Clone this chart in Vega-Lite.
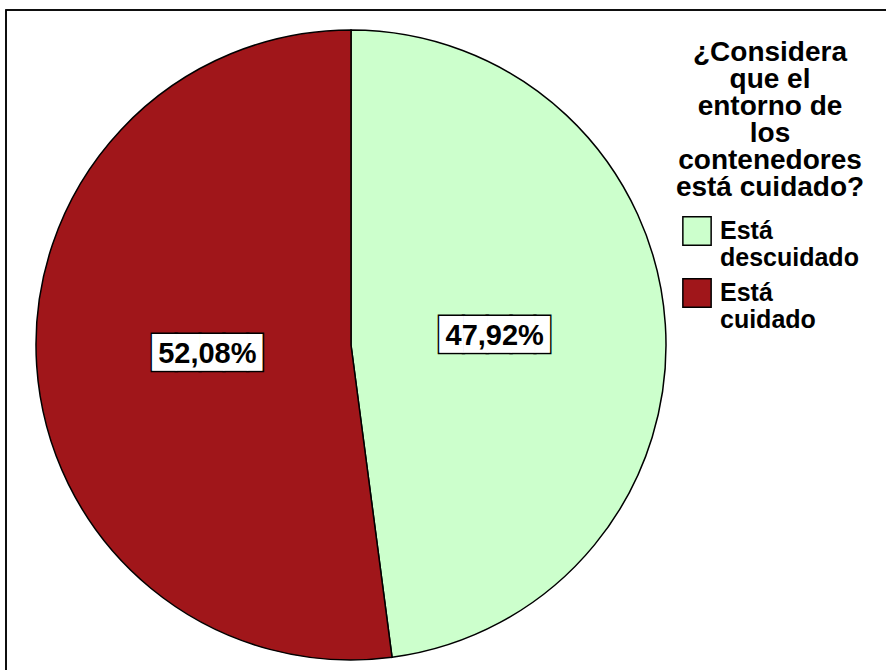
{
  "$schema": "https://vega.github.io/schema/vega-lite/v6.json",
  "width": 900,
  "height": 680,
  "autosize": "none",
  "padding": {"left": 6, "top": 10, "right": 0, "bottom": 0},
  "background": "white",
  "config": {
    "view": {"stroke": "black", "strokeWidth": 1.5},
    "font": "Liberation Sans"
  },
  "data": {
    "values": [
      {"respuesta": "Está descuidado", "porcentaje": 47.92, "etiqueta": "47,92%"},
      {"respuesta": "Está cuidado", "porcentaje": 52.08, "etiqueta": "52,08%"}
    ]
  },
  "layer": [
    {
      "mark": {"type": "rect", "fill": null, "stroke": "black", "strokeWidth": 1.5},
      "encoding": {}
    },
    {
      "mark": {"type": "arc", "outerRadius": 315, "stroke": "black", "strokeWidth": 1.5, "x": 345, "y": 335},
      "encoding": {
        "theta": {"field": "porcentaje", "type": "quantitative", "stack": true},
        "order": {"field": "porcentaje", "type": "quantitative", "sort": "ascending"},
        "color": {
          "field": "respuesta",
          "type": "nominal",
          "scale": {"domain": ["Está descuidado", "Está cuidado"], "range": ["#CCFFCC", "#A0161A"]},
          "legend": {
            "title": ["¿Considera", "que el", "entorno de", "los", "contenedores", "está cuidado?"],
            "orient": "none",
            "legendX": 670,
            "legendY": 29,
            "titleFontSize": 28,
            "titleFont": "Liberation Sans",
            "titleFontWeight": "bold",
            "titleColor": "black",
            "titleAlign": "center",
            "titleAnchor": "middle",
            "titleLineHeight": 27,
            "titleLimit": 400,
            "titlePadding": 14,
            "labelFontSize": 25,
            "labelFontWeight": "bold",
            "labelColor": "black",
            "labelFont": "Liberation Sans",
            "labelExpr": "split(datum.label, ' ')",
            "labelLimit": 300,
            "labelOffset": 8,
            "symbolType": "square",
            "symbolSize": 800,
            "symbolStrokeColor": "black",
            "symbolStrokeWidth": 1.5,
            "symbolOpacity": 1,
            "rowPadding": 4
          }
        }
      }
    },
    {
      "mark": {"type": "text", "text": "████▋", "font": "DejaVu Sans", "fontSize": 31, "radius": 144, "x": 345, "y": 335, "dx": 4.5, "fill": "black", "stroke": "black", "strokeWidth": 3, "align": "center", "baseline": "middle"},
      "encoding": {
        "theta": {"field": "porcentaje", "type": "quantitative", "stack": true},
        "order": {"field": "porcentaje", "type": "quantitative", "sort": "ascending"}
      }
    },
    {
      "mark": {"type": "text", "text": "████▋", "font": "DejaVu Sans", "fontSize": 31, "radius": 144, "x": 345, "y": 335, "dx": 4.5, "fill": "white", "align": "center", "baseline": "middle"},
      "encoding": {
        "theta": {"field": "porcentaje", "type": "quantitative", "stack": true},
        "order": {"field": "porcentaje", "type": "quantitative", "sort": "ascending"}
      }
    },
    {
      "mark": {"type": "text", "radius": 144, "x": 345, "y": 335, "fontSize": 29, "fontWeight": "bold", "font": "Liberation Sans", "fill": "black", "align": "center", "baseline": "middle"},
      "encoding": {
        "theta": {"field": "porcentaje", "type": "quantitative", "stack": true},
        "order": {"field": "porcentaje", "type": "quantitative", "sort": "ascending"},
        "text": {"field": "etiqueta", "type": "nominal"}
      }
    }
  ]
}
